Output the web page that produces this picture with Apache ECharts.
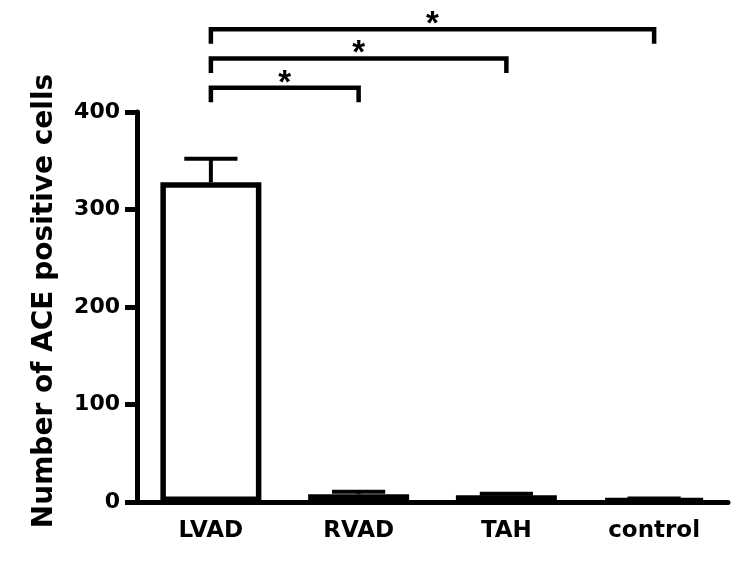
<!DOCTYPE html>
<html lang="en">
<head>
    <meta charset="utf-8">
    <script src="https://cdn.jsdelivr.net/npm/echarts@6/dist/echarts.min.js"></script>
    <style>
        html, body { margin: 0; padding: 0; background: #fff; }
        #main { width: 750px; height: 563px; }
    </style>
</head>
<body>
<div id="main"></div>
<script type="text/javascript">
    // values
    var categories = ['LVAD', 'RVAD', 'TAH', 'control'];
    var means = [328, 8, 7, 3];
    var sems = [24, 2.5, 1.5, 0.5];
    var yTicks = [0, 100, 200, 300, 400];

    // significance brackets: from category, to category, height (axis units)
    var bracketFrom = [0, 0, 0];
    var bracketTo = [1, 2, 3];
    var bracketLevel = [425, 455, 485];
    var bracketMark = ['*', '*', '*'];

    var chart = echarts.init(document.getElementById('main'));

    var errData = [];
    for (var i = 0; i < categories.length; i++) {
        errData.push([i, means[i], sems[i]]);
    }
    var brData = [];
    for (var j = 0; j < bracketFrom.length; j++) {
        brData.push([bracketFrom[j], bracketTo[j], bracketLevel[j], bracketMark[j]]);
    }

    function renderErr(params, api) {
        var i = api.value(0);
        var base = api.coord([i, api.value(1)]);
        var top = api.coord([i, api.value(1) + api.value(2)]);
        var half = api.size([1, 0])[0] * 0.18;
        return {
            type: 'group',
            children: [
                {type: 'line', shape: {x1: base[0], y1: base[1], x2: top[0], y2: top[1]},
                 style: {stroke: '#000', lineWidth: 4}},
                {type: 'line', shape: {x1: top[0] - half, y1: top[1], x2: top[0] + half, y2: top[1]},
                 style: {stroke: '#000', lineWidth: 4}}
            ]
        };
    }

    function renderBracket(params, api) {
        var lvl = api.value(2);
        var a = api.coord([api.value(0), lvl]);
        var b = api.coord([api.value(1), lvl]);
        var leg = api.coord([api.value(0), lvl - 15])[1];
        return {
            type: 'group',
            children: [
                {type: 'polyline', shape: {points: [[a[0], leg], a, b, [b[0], leg]]},
                 style: {stroke: '#000', lineWidth: 4.5, fill: null}},
                {type: 'text', style: {text: bracketMark[params.dataIndex], x: (a[0] + b[0]) / 2, y: a[1] - 4,
                 align: 'center', verticalAlign: 'middle', fill: '#000',
                 font: 'bold 33px "Liberation Sans", Arial, sans-serif'}}
            ]
        };
    }

    var option = {
        animation: false,
        grid: {left: 137, right: 22, top: 112, bottom: 61},
        xAxis: {
            type: 'category',
            data: categories,
            axisLine: {lineStyle: {color: '#000', width: 5}},
            axisTick: {alignWithLabel: true, length: 11, lineStyle: {color: '#000', width: 4}},
            axisLabel: {color: '#000', fontSize: 23, fontWeight: 'bold', fontFamily: 'DejaVu Sans', margin: 18}
        },
        yAxis: {
            type: 'value',
            min: 0,
            max: 400,
            interval: 100,
            name: 'Number of ACE positive cells',
            nameLocation: 'middle',
            nameGap: 78,
            nameTextStyle: {color: '#000', fontSize: 28, fontWeight: 'bold', fontFamily: 'DejaVu Sans',
                padding: [0, 0, 0, 12]},
            axisLine: {show: true, lineStyle: {color: '#000', width: 5}},
            axisTick: {show: true, length: 12, lineStyle: {color: '#000', width: 5}},
            splitLine: {show: false},
            axisLabel: {color: '#000', fontSize: 22, fontWeight: 'bold', fontFamily: 'DejaVu Sans', margin: 17,
                formatter: function (v) { return yTicks.indexOf(v) >= 0 ? String(v) : ''; }}
        },
        series: [
            {
                type: 'bar',
                data: means,
                barWidth: 101,
                itemStyle: {color: '#fff', borderColor: '#000', borderWidth: 5.5},
                z: 2
            },
            {
                type: 'custom',
                data: errData,
                encode: {x: 0, y: 1},
                renderItem: renderErr,
                z: 3
            },
            {
                type: 'custom',
                data: brData,
                encode: {x: [0, 1], y: 2},
                renderItem: renderBracket,
                clip: false,
                z: 3
            }
        ]
    };

    chart.setOption(option);
</script>
</body>
</html>
